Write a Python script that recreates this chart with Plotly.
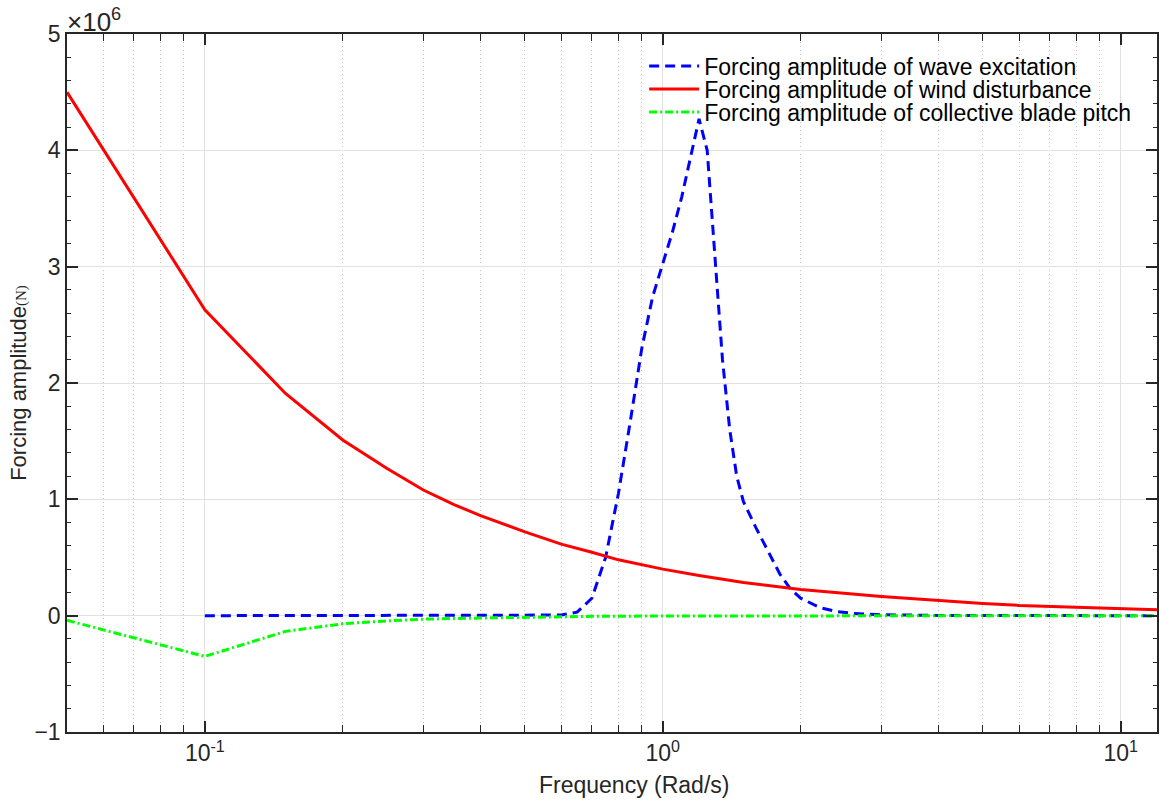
import plotly.graph_objects as go

# Frequencies (rad/s) and forcing amplitudes (x 10^6 N)
wave_freq = [0.1, 0.2, 0.3, 0.4, 0.5, 0.6, 0.65, 0.7, 0.75, 0.8, 0.85, 0.9, 0.95, 1.0,
             1.05, 1.1, 1.15, 1.2, 1.25, 1.3, 1.35, 1.4, 1.45, 1.5, 1.6, 1.7, 1.8, 1.9,
             2.0, 2.2, 2.4, 2.6, 2.8, 3.0, 4.0, 5.0, 6.0, 8.0, 10.0, 12.0]
wave_amp = [0.0, 0.0, 0.0, 0.0, 0.0, 0.005, 0.03, 0.15, 0.5, 1.05, 1.68, 2.3, 2.74, 3.03,
            3.3, 3.6, 3.95, 4.27, 4.0, 3.1, 2.2, 1.6, 1.2, 0.98, 0.75, 0.55, 0.36, 0.23,
            0.15, 0.07, 0.035, 0.02, 0.012, 0.008, 0.002, 0.0, 0.0, 0.0, 0.0, 0.0]

wind_freq = [0.05, 0.1, 0.15, 0.2, 0.25, 0.3, 0.35, 0.4, 0.5, 0.6, 0.7, 0.8, 1.0, 1.2,
             1.5, 2.0, 3.0, 4.0, 5.0, 6.0, 8.0, 10.0, 12.0]
wind_amp = [4.5, 2.63, 1.91, 1.51, 1.265, 1.08, 0.955, 0.86, 0.72, 0.615, 0.545, 0.48,
            0.40, 0.345, 0.285, 0.225, 0.165, 0.13, 0.105, 0.088, 0.07, 0.058, 0.05]

pitch_freq = [0.05, 0.1, 0.15, 0.2, 0.25, 0.3, 0.4, 0.5, 0.7, 1.0, 2.0, 4.0, 8.0, 12.0]
pitch_amp = [-0.04, -0.35, -0.135, -0.07, -0.045, -0.03, -0.02, -0.012, -0.006, -0.003,
             0.0, 0.0, 0.0, 0.0]

series_names = ["Forcing amplitude of wave excitation",
                "Forcing amplitude of wind disturbance",
                "Forcing amplitude of collective blade pitch"]

x_tickvals = [0.1, 1, 10]
x_ticktext = ["10<sup>-1</sup>", "10<sup>0</sup>", "10<sup>1</sup>"]
y_tickvals = [-1, 0, 1, 2, 3, 4, 5]

FONT = "Liberation Sans, Arial, Helvetica, sans-serif"
AX = "#262626"

fig = go.Figure()
fig.add_trace(go.Scatter(x=wave_freq, y=wave_amp, mode="lines", name=series_names[0],
                         legend="legend",
                         line=dict(color="#0000FF", width=3, dash="10px,6px")))
fig.add_trace(go.Scatter(x=wind_freq, y=wind_amp, mode="lines", name=series_names[1],
                         legend="legend2",
                         line=dict(color="#FF0000", width=3)))
fig.add_trace(go.Scatter(x=pitch_freq, y=pitch_amp, mode="lines", name=series_names[2],
                         legend="legend3",
                         line=dict(color="#00FF00", width=3, dash="8px,3px,2px,3px")))

axis_common = dict(showline=True, linecolor=AX, linewidth=1.5, mirror="ticks",
                   ticks="inside", tickcolor=AX, tickwidth=1.5, ticklen=11,
                   tickfont=dict(family=FONT, size=23, color=AX),
                   showgrid=True, gridcolor="#e2e2e2", gridwidth=1, zeroline=False)

fig.update_xaxes(type="log", range=[-1.30103, 1.07918], tickmode="array",
                 tickvals=x_tickvals, ticktext=x_ticktext,
                 minor=dict(dtick="D1", ticks="inside", ticklen=7, tickcolor=AX, tickwidth=1,
                            showgrid=True, griddash="1px,3px", gridcolor="#c4c4c4", gridwidth=1),
                 **axis_common)
fig.update_yaxes(range=[-1, 5], tickmode="array", tickvals=y_tickvals,
                 title=dict(text="Forcing amplitude<span style='font-family:Liberation Serif, Times New Roman, serif;font-size:15px'>(N)</span>",
                            font=dict(family=FONT, size=22, color=AX), standoff=2),
                 minor=dict(dtick=0.2, ticks="inside", ticklen=4, tickcolor=AX, tickwidth=1,
                            showgrid=False),
                 **axis_common)

# x-axis title (placed as in the reference, slightly right of centre)
fig.add_annotation(text="Frequency (Rad/s)", xref="paper", yref="paper", x=0.52, y=0,
                   xanchor="center", yanchor="middle", yshift=-53, showarrow=False,
                   font=dict(family=FONT, size=23, color=AX))

fig.add_annotation(text="×10<sup>6</sup>", xref="paper", yref="paper", x=0, y=1,
                   xanchor="left", yanchor="bottom", showarrow=False, yshift=-5, xshift=-2,
                   font=dict(family=FONT, size=26, color=AX))

leg_common = dict(x=0.5295, xanchor="left", yanchor="middle",
                  bgcolor="rgba(255,255,255,0)", borderwidth=0,
                  font=dict(family=FONT, size=23, color="black"), itemwidth=50)

fig.update_layout(width=1160, height=804, margin=dict(l=67, r=1, t=34, b=72),
                  plot_bgcolor="white", paper_bgcolor="white",
                  legend=dict(y=0.9542, **leg_common),
                  legend2=dict(y=0.9212, **leg_common),
                  legend3=dict(y=0.8883, **leg_common),
                  showlegend=True)

fig.write_html("out.html")
